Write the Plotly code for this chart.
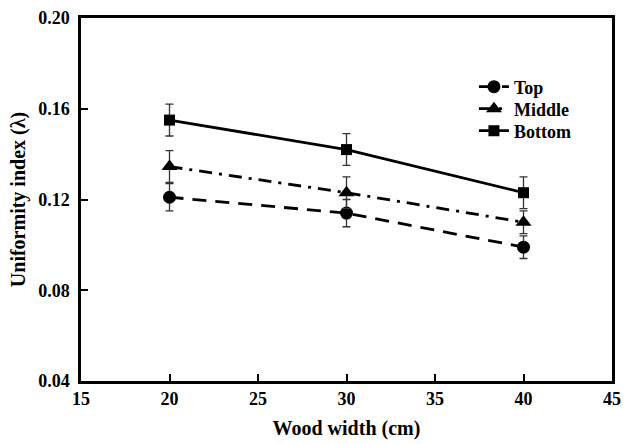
import plotly.graph_objects as go

widths = [20, 30, 40]
top_vals = [0.121, 0.114, 0.099]
top_err = [0.006, 0.006, 0.005]
mid_vals = [0.1345, 0.123, 0.110]
mid_err = [0.007, 0.007, 0.005]
bot_vals = [0.155, 0.142, 0.123]
bot_err = [0.007, 0.007, 0.007]

x_ticks = [15, 20, 25, 30, 35, 40, 45]
y_ticks = [0.04, 0.08, 0.12, 0.16, 0.20]

FONT = "Liberation Serif"
fig = go.Figure()

def add(name, y, e, sym, size, dash, legend):
    fig.add_trace(go.Scatter(
        x=widths, y=y, name="<b>%s</b>" % name, mode="lines+markers",
        line=dict(color="black", width=2.8, dash=dash),
        marker=dict(symbol=sym, size=size, color="black"),
        error_y=dict(type="data", array=e, visible=True, color="#333333",
                     thickness=1.3, width=4),
        legend=legend,
    ))

add("Top", top_vals, top_err, "circle", 13, "14px,9px", "legend")
add("Middle", mid_vals, mid_err, "triangle-up", 14, "13px,7px,3px,7px", "legend2")
add("Bottom", bot_vals, bot_err, "square", 11, "solid", "legend3")

axis_common = dict(showline=True, linecolor="black", linewidth=2.5, mirror=True,
                   ticks="inside", ticklen=7, tickwidth=2, tickcolor="black",
                   showgrid=False, zeroline=False, automargin=False,
                   tickfont=dict(family=FONT, size=18, color="black"))

def leg(yc):
    return dict(x=0.74, y=1 - (yc - 18) / 363.0, xanchor="left", yanchor="middle",
                bgcolor="rgba(0,0,0,0)",
                font=dict(family=FONT, size=18, color="black"))

fig.update_layout(
    width=627, height=444,
    margin=dict(l=81, r=15, t=18, b=63),
    plot_bgcolor="white", paper_bgcolor="white",
    font=dict(family=FONT, color="black"),
    xaxis=dict(range=[15, 45], tickvals=x_ticks,
               ticktext=["<b>%d</b>" % v for v in x_ticks],
               title=dict(text="<b>Wood width (cm)</b>", font=dict(family=FONT, size=20), standoff=13),
               **axis_common),
    yaxis=dict(range=[0.04, 0.20], tickvals=y_ticks,
               ticktext=["<b>%.2f</b>" % v for v in y_ticks],
               ticklabelstandoff=5,
               title=dict(text="<b>Uniformity index (λ)</b>", font=dict(family=FONT, size=20), standoff=8),
               **axis_common),
    legend=leg(87),
    legend2=leg(109),
    legend3=leg(131),
    showlegend=True,
)

fig.write_html("out.html", config={"displayModeBar": False},
               post_script="document.body.style.margin='0';document.body.style.overflow='hidden';")
